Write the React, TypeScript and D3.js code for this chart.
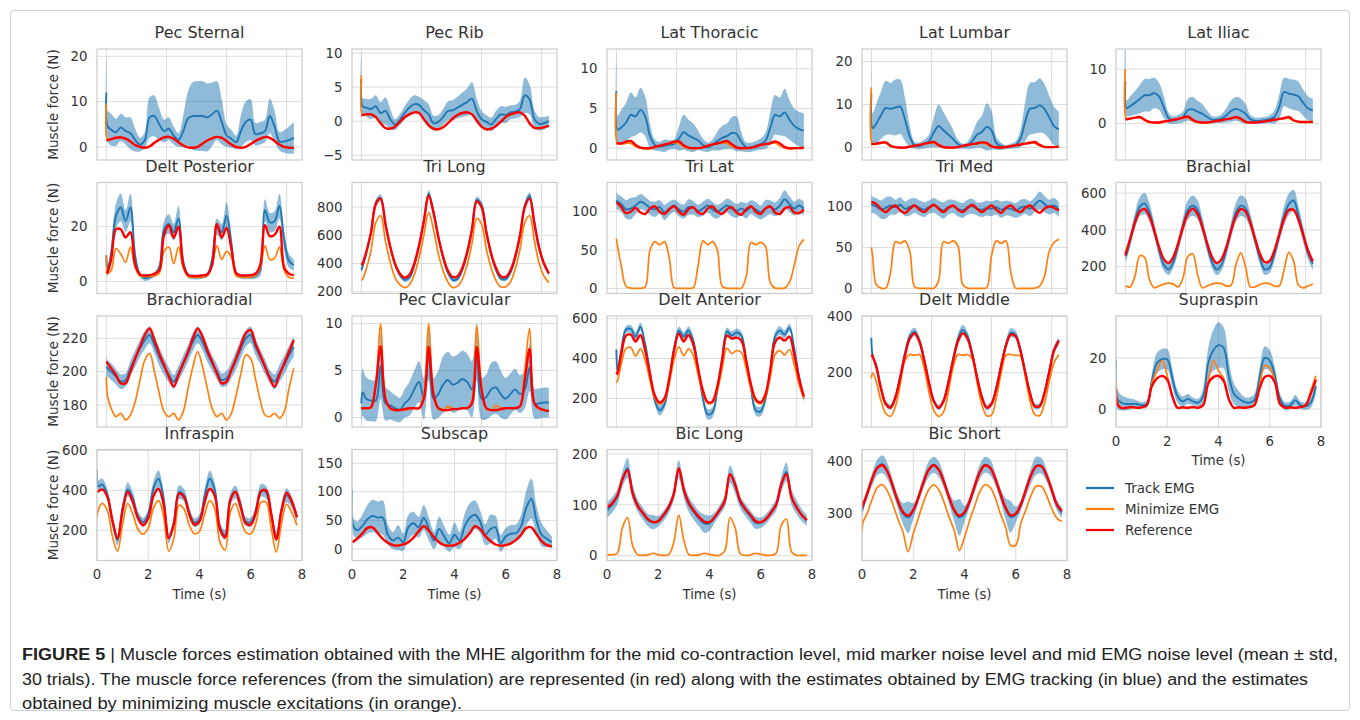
import React from "react";
import * as d3 from "d3";

// sample times (s), shared by every muscle
const TIME = [0, 0.05, 0.2, 0.4, 0.6, 0.8, 1.0, 1.2, 1.4, 1.6, 1.8, 2.0, 2.2, 2.4, 2.6, 2.8, 3.0, 3.2, 3.4, 3.6, 3.8, 4.0, 4.2, 4.4, 4.6, 4.8, 5.0, 5.2, 5.4, 5.6, 5.8, 6.0, 6.2, 6.4, 6.6, 6.8, 7.0, 7.2, 7.4, 7.6, 7.8];

const SERIES = ["Track EMG", "Minimize EMG", "Reference"];

// ---- Pec Sternal
const PEC_STERNAL_REF = [1.5, 1.5, 1.7, 2.0, 2.1, 1.8, 1.2, 0.4, 0.0, -0.2, 0.1, 0.9, 1.6, 2.1, 2.2, 1.8, 1.0, 0.3, -0.1, -0.2, 0.0, 0.7, 1.4, 1.9, 2.2, 2.0, 1.3, 0.5, 0.0, -0.2, 0.0, 0.6, 1.3, 1.8, 2.2, 2.0, 1.3, 0.5, 0.0, -0.2, -0.2];
const PEC_STERNAL_MIN = [9.5, 1.5, 1.7, 2.0, 2.1, 1.8, 1.2, 0.4, 0.0, -0.2, 0.1, 0.9, 1.6, 2.1, 2.2, 1.8, 1.0, 0.3, -0.1, -0.2, 0.0, 0.7, 1.4, 1.9, 2.2, 2.0, 1.3, 0.5, 0.0, -0.2, 0.0, 0.6, 1.3, 1.8, 2.2, 2.0, 1.3, 0.5, 0.0, -0.2, -0.2];
const PEC_STERNAL_TRACK = [12, 4.5, 3.8, 3.2, 4.3, 3.5, 3.0, 1.5, 0.5, 1.5, 6.5, 6.8, 5.0, 3.5, 4.0, 2.5, 1.5, 3.5, 6.3, 6.8, 6.8, 6.8, 6.5, 7.2, 8.0, 5.5, 2.5, 1.8, 1.0, 3.5, 5.5, 6.0, 2.8, 3.0, 3.5, 6.8, 4.5, 1.2, 1.2, 1.5, 2.0];
const PEC_STERNAL_STD = [8, 3.5, 3.5, 3, 3, 3, 3.5, 2.5, 1.5, 1.8, 4.5, 4.5, 3.5, 2.5, 2.5, 2, 1.5, 3.5, 6, 7.5, 7.7, 7.7, 7.5, 7, 6.5, 5, 2.5, 2, 1.5, 3.5, 4.5, 4.5, 2.5, 2.5, 2.5, 3.8, 3.5, 2, 2.5, 3, 3.5];

// ---- Pec Rib
const PEC_RIB_REF = [0.9, 0.9, 1.0, 1.0, 0.6, -0.3, -1.0, -1.1, -0.8, -0.1, 0.6, 1.0, 1.3, 1.2, 0.3, -0.6, -1.1, -1.2, -0.9, -0.3, 0.4, 0.9, 1.2, 1.3, 1.0, 0.1, -0.8, -1.2, -1.1, -0.7, -0.1, 0.6, 1.0, 1.2, 1.3, 0.8, -0.3, -1.0, -1.0, -0.9, -0.7];
const PEC_RIB_MIN = [6.7, 0.9, 1.0, 1.0, 0.6, -0.3, -1.0, -1.1, -0.8, -0.1, 0.6, 1.0, 1.3, 1.2, 0.3, -0.6, -1.1, -1.2, -0.9, -0.3, 0.4, 0.9, 1.2, 1.3, 1.0, 0.1, -0.8, -1.2, -1.1, -0.7, -0.1, 0.6, 1.0, 1.2, 1.3, 0.8, -0.3, -1.0, -1.0, -0.9, -0.7];
const PEC_RIB_TRACK = [6.2, 2.2, 2.0, 1.8, 2.2, 1.2, 1.5, 0.3, -0.5, 0.2, 1.2, 2.0, 2.5, 2.4, 1.6, 1.0, -0.3, -0.1, 0.6, 1.5, 1.6, 2.0, 2.4, 2.8, 3.3, 1.5, 0.3, -0.1, -0.5, 0.3, 1.0, 0.9, 1.3, 1.4, 1.8, 3.8, 3.2, 0.3, -0.4, -0.3, 0.0];
const PEC_RIB_STD = [4, 1.2, 1.3, 1.5, 1.6, 1.6, 2.0, 1.5, 0.8, 0.8, 1.0, 1.2, 1.3, 1.2, 1.5, 1.5, 1.1, 1.0, 1.2, 1.4, 1.5, 1.6, 1.8, 2.0, 2.4, 1.8, 1.2, 1.0, 1.0, 1.2, 1.2, 1.2, 1.0, 1.0, 1.2, 2.6, 2.2, 1.3, 1.0, 0.9, 0.8];

// ---- Lat Thoracic
const LAT_THORACIC_REF = [0.6, 0.6, 0.6, 0.8, 0.9, 0.4, 0.05, 0, 0, 0.15, 0.3, 0.45, 0.6, 0.8, 0.85, 0.35, 0.05, 0, 0, 0.1, 0.3, 0.45, 0.6, 0.75, 0.9, 0.5, 0.1, 0, 0, 0.05, 0.2, 0.4, 0.5, 0.6, 0.85, 0.6, 0.15, 0, 0, 0, 0.05];
const LAT_THORACIC_MIN = [7.0, 0.6, 0.5, 0.6, 0.6, 0.2, 0, -0.1, -0.1, 0.1, 0.3, 0.45, 0.55, 0.7, 0.6, 0.15, -0.05, -0.1, -0.05, 0.1, 0.3, 0.45, 0.55, 0.65, 0.6, 0.2, 0, -0.1, -0.05, 0.05, 0.2, 0.4, 0.5, 0.6, 0.65, 0.3, 0, -0.1, -0.05, 0, 0.05];
const LAT_THORACIC_TRACK = [7.2, 2.3, 2.6, 3.2, 4.2, 4.0, 4.8, 4.0, 1.5, 0.4, 0.2, 0.3, 0.4, 0.5, 1.2, 2.0, 1.6, 1.3, 1.0, 0.4, 0.1, 0.4, 0.9, 1.3, 1.5, 1.9, 1.8, 0.8, 0.1, 0.1, 0.3, 0.5, 0.9, 2.5, 4.2, 4.0, 4.5, 3.6, 2.8, 2.4, 2.2];
const LAT_THORACIC_STD = [5, 1.8, 2.2, 2.5, 2.8, 2.4, 2.8, 2.5, 1.5, 0.7, 0.6, 0.8, 0.6, 0.6, 1.5, 2.2, 2.0, 1.8, 1.2, 0.8, 0.6, 0.7, 1.2, 1.5, 1.6, 2.0, 2.2, 1.2, 0.6, 0.6, 0.6, 0.7, 1.0, 2.0, 2.5, 2.4, 3.0, 2.5, 2.2, 2.2, 2.2];

// ---- Lat Lumbar
const LAT_LUMBAR_REF = [0.8, 0.8, 0.9, 1.1, 1.2, 0.4, 0.1, 0, 0, 0.2, 0.4, 0.6, 0.9, 1.1, 1.3, 0.6, 0.1, 0, 0, 0.1, 0.4, 0.6, 0.8, 1.0, 1.2, 1.1, 0.3, 0.05, 0, 0.1, 0.3, 0.5, 0.7, 0.9, 1.1, 1.3, 0.6, 0.15, 0.1, 0.1, 0.2];
const LAT_LUMBAR_MIN = [14, 0.8, 0.8, 1.0, 1.0, 0.3, 0, -0.1, -0.1, 0.2, 0.4, 0.6, 0.8, 1.0, 1.0, 0.4, 0, -0.1, -0.1, 0.1, 0.4, 0.6, 0.8, 0.9, 1.0, 0.8, 0.2, 0, -0.1, 0.1, 0.3, 0.5, 0.7, 0.9, 1.0, 1.0, 0.4, 0.1, 0, 0.1, 0.2];
const LAT_LUMBAR_TRACK = [12.5, 4.5, 5.5, 7.5, 9.2, 9.0, 9.3, 9.5, 6.5, 2.5, 0.5, 0.4, 0.8, 1.5, 3.5, 5.0, 4.0, 3.0, 2.0, 0.8, 0.3, 0.5, 1.5, 3.0, 3.6, 4.8, 4.0, 1.0, 0.3, 0.1, 0.3, 0.6, 2.0, 6.0, 9.0, 9.2, 9.8, 9.0, 7.0, 5.0, 4.2];
const LAT_LUMBAR_STD = [8, 3.5, 4.5, 5.5, 6.3, 6.0, 6.5, 6.3, 5.0, 2.5, 0.8, 0.8, 1.0, 1.5, 3.5, 5.0, 4.2, 3.2, 2.2, 1.0, 0.6, 0.8, 1.8, 3.0, 3.8, 5.5, 4.5, 1.5, 0.8, 0.5, 0.6, 0.8, 2.0, 4.5, 6.0, 6.0, 6.3, 5.8, 5.0, 4.5, 4.2];

// ---- Lat Iliac
const LAT_ILIAC_REF = [0.8, 0.8, 0.9, 1.1, 1.2, 0.7, 0.3, 0.2, 0.2, 0.4, 0.5, 0.7, 0.85, 1.1, 1.3, 0.7, 0.3, 0.2, 0.2, 0.3, 0.5, 0.6, 0.8, 0.95, 1.2, 0.9, 0.3, 0.2, 0.2, 0.3, 0.4, 0.55, 0.7, 0.85, 1.0, 1.2, 0.6, 0.35, 0.3, 0.3, 0.3];
const LAT_ILIAC_MIN = [10, 0.8, 0.9, 1.0, 1.1, 0.6, 0.2, 0.1, 0.1, 0.3, 0.5, 0.7, 0.8, 1.0, 1.1, 0.5, 0.2, 0.1, 0.1, 0.3, 0.5, 0.6, 0.8, 0.9, 1.1, 0.7, 0.2, 0.1, 0.1, 0.3, 0.4, 0.55, 0.7, 0.8, 0.9, 1.0, 0.5, 0.25, 0.2, 0.2, 0.2];
const LAT_ILIAC_TRACK = [7.8, 2.8, 3.2, 3.8, 4.5, 5.2, 5.2, 5.6, 5.0, 3.0, 1.0, 0.6, 0.8, 1.2, 2.5, 2.6, 2.2, 1.8, 1.2, 0.7, 0.7, 0.9, 1.5, 2.3, 2.7, 2.4, 1.8, 0.8, 0.5, 0.5, 0.6, 0.8, 1.2, 3.0, 5.8, 5.5, 5.3, 5.0, 3.8, 2.8, 2.4];
const LAT_ILIAC_STD = [10, 1.5, 1.8, 2.2, 2.6, 3.0, 3.0, 2.8, 2.5, 2.0, 1.0, 0.7, 0.8, 1.0, 2.0, 2.3, 2.0, 1.8, 1.2, 0.7, 0.6, 0.8, 1.3, 2.0, 2.2, 2.2, 1.8, 0.8, 0.6, 0.6, 0.6, 0.7, 1.2, 2.2, 2.6, 2.7, 2.8, 2.7, 2.4, 2.2, 2.1];

// ---- Delt Posterior
const DELT_POST_REF = [3, 3.5, 8, 19, 19, 16, 18, 6, 2.5, 2.2, 2.3, 2.8, 4, 17, 20.5, 16, 20, 6, 2.3, 2.0, 2.0, 2.2, 2.5, 6, 21, 16, 19.5, 12, 3, 2.2, 2.2, 2.3, 2.8, 6, 20.5, 16.5, 17, 20, 5, 2.8, 2.3];
const DELT_POST_MIN = [9.5, 3, 4, 12, 10, 7, 12.5, 5, 2, 1.8, 1.8, 2, 3, 11, 12.5, 6.5, 12.5, 5, 1.8, 1.5, 1.5, 1.6, 2, 6, 13, 8, 11, 9, 2, 1.6, 1.5, 1.6, 2.2, 5, 13, 8, 8.5, 12.5, 4, 1.5, 1.2];
const DELT_POST_TRACK = [9.5, 4, 10, 24, 27, 22, 27, 9, 2.5, 1.2, 1.5, 2.5, 5, 19, 21, 18, 23, 7, 2.3, 1.6, 1.5, 1.8, 2.5, 8, 20, 18, 24, 14, 3, 1.8, 1.6, 1.6, 2.0, 4, 26, 21.5, 22, 27.5, 15, 7.5, 6];
const DELT_POST_STD = [3, 2, 3, 4.5, 5, 4, 5, 3, 1, 1, 0.8, 1, 1.5, 3, 3.5, 3, 4.5, 2.5, 1, 0.8, 0.8, 0.8, 1, 2, 3, 3, 5, 3, 1.2, 0.8, 0.8, 0.8, 1, 2, 4, 3.5, 3.5, 4.5, 3.5, 2.5, 2];

// ---- Tri Long
const TRI_LONG_REF = [390, 400, 480, 620, 820, 860, 680, 520, 400, 330, 300, 320, 400, 530, 700, 880, 760, 590, 450, 350, 305, 310, 370, 480, 640, 840, 800, 620, 470, 370, 310, 305, 350, 450, 600, 800, 860, 680, 510, 400, 330];
const TRI_LONG_MIN = [280, 290, 360, 490, 690, 740, 560, 410, 300, 250, 230, 250, 320, 440, 600, 760, 640, 470, 350, 270, 230, 240, 290, 390, 540, 720, 680, 500, 370, 280, 235, 235, 270, 360, 500, 690, 740, 560, 400, 310, 265];
const TRI_LONG_TRACK = [355, 380, 470, 620, 830, 865, 690, 520, 395, 320, 285, 300, 385, 525, 705, 895, 770, 590, 440, 335, 285, 290, 355, 470, 640, 850, 815, 625, 465, 355, 295, 290, 335, 440, 600, 810, 880, 695, 510, 395, 330];
const TRI_LONG_STD = [20, 20, 20, 22, 25, 25, 22, 20, 18, 16, 15, 16, 18, 20, 24, 25, 24, 20, 18, 16, 15, 15, 17, 20, 24, 25, 25, 22, 18, 16, 15, 15, 16, 20, 24, 25, 25, 22, 18, 16, 15];

// ---- Tri Lat
const TRI_LAT_REF = [112, 111, 106, 98, 100, 105, 99, 97, 104, 107, 100, 97, 103, 107, 100, 96, 103, 106, 99, 97, 104, 107, 100, 97, 103, 106, 99, 96, 103, 107, 100, 97, 104, 107, 99, 97, 104, 106, 99, 98, 103];
const TRI_LAT_MIN = [65, 55, 30, 3, 0.5, 0.3, 0.3, 2, 50, 61, 57, 61, 40, 1, 0.3, 0.3, 0.3, 1, 30, 62, 57, 61, 50, 3, 0.3, 0.3, 0.3, 0.5, 15, 60, 57, 60, 55, 8, 0.5, 0.3, 0.5, 8, 30, 55, 64];
const TRI_LAT_TRACK = [115, 113, 110, 103, 104, 108, 113, 110, 105, 103, 106, 99, 104, 108, 103, 100, 106, 105, 101, 104, 108, 103, 100, 104, 108, 104, 101, 104, 101, 106, 103, 99, 104, 106, 103, 108, 116, 110, 104, 108, 104];
const TRI_LAT_STD = [12, 10, 10, 12, 14, 11, 10, 9, 9, 10, 9, 10, 9, 8, 9, 9, 10, 9, 8, 9, 9, 10, 9, 8, 9, 10, 9, 9, 10, 9, 10, 9, 11, 9, 9, 10, 12, 10, 9, 9, 9];

// ---- Tri Med
const TRI_MED_REF = [105, 105, 103, 97, 93, 98, 101, 95, 92, 97, 101, 96, 93, 98, 102, 97, 93, 98, 101, 96, 93, 98, 102, 97, 93, 97, 101, 96, 92, 98, 101, 96, 93, 98, 101, 96, 92, 97, 100, 98, 95];
const TRI_MED_MIN = [50, 40, 5, 0.5, 0.5, 20, 57, 55, 58, 45, 2, 0.3, 0.3, 0.3, 0.5, 10, 57, 55, 58, 52, 5, 0.5, 0.3, 0.3, 0.3, 1, 40, 58, 55, 58, 20, 0.5, 0.3, 0.3, 0.3, 0.5, 3, 15, 45, 56, 60];
const TRI_MED_TRACK = [103, 102, 100, 96, 98, 101, 99, 102, 97, 99, 101, 98, 96, 99, 101, 98, 95, 99, 100, 97, 95, 99, 100, 97, 96, 98, 97, 99, 96, 98, 97, 95, 98, 100, 97, 102, 107, 103, 99, 101, 96];
const TRI_MED_STD = [12, 10, 10, 11, 13, 11, 9, 9, 9, 10, 9, 9, 9, 8, 9, 9, 10, 9, 8, 9, 9, 9, 9, 8, 9, 9, 9, 9, 10, 9, 9, 9, 10, 9, 9, 9, 11, 10, 9, 9, 9];

// ---- Brachial
const BRACHIAL_REF = [262, 287, 351, 438, 500, 514, 474, 396, 307, 241, 220, 254, 328, 417, 488, 515, 488, 417, 328, 254, 220, 241, 307, 396, 474, 514, 500, 438, 351, 269, 224, 231, 287, 373, 457, 508, 508, 457, 373, 287, 228];
const BRACHIAL_MIN = [95, 93, 90, 150, 260, 250, 130, 85, 95, 105, 110, 105, 90, 140, 255, 270, 160, 85, 95, 105, 110, 108, 95, 100, 210, 275, 200, 90, 90, 103, 110, 108, 95, 95, 180, 278, 230, 100, 85, 95, 105];
const BRACHIAL_TRACK = [258, 270, 344, 451, 526, 544, 495, 399, 291, 210, 185, 226, 318, 425, 508, 532, 510, 426, 318, 226, 184, 210, 291, 400, 495, 532, 517, 445, 344, 245, 185, 195, 268, 372, 475, 540, 560, 480, 375, 275, 215];
const BRACHIAL_STD = [30, 30, 35, 42, 52, 58, 50, 40, 35, 32, 30, 32, 36, 44, 52, 55, 52, 44, 36, 32, 30, 32, 36, 44, 52, 56, 54, 44, 36, 32, 30, 30, 34, 42, 52, 58, 58, 50, 42, 36, 32];

// ---- Brachioradial
const BRACHIORAD_REF = [206, 205, 202, 198, 193, 193, 200, 208, 215, 222, 226, 219, 211, 204, 197, 191, 198, 205, 212, 220, 226, 221, 213, 206, 199, 193, 194, 201, 208, 216, 223, 225, 217, 210, 203, 196, 191, 198, 205, 212, 219];
const BRACHIORAD_MIN = [197, 185, 178, 173, 175, 171, 174, 182, 195, 207, 211, 200, 187, 176, 173, 175, 171, 176, 190, 203, 212, 203, 190, 178, 173, 175, 171, 175, 186, 199, 210, 208, 196, 183, 174, 173, 175, 172, 176, 190, 202];
const BRACHIORAD_TRACK = [203, 202, 200, 197, 194, 195, 202, 208, 214, 219, 222, 216, 209, 203, 198, 194, 199, 205, 211, 218, 222, 218, 211, 205, 200, 195, 196, 201, 207, 214, 220, 222, 215, 209, 203, 197, 194, 199, 204, 210, 215];
const BRACHIORAD_STD = [6, 5, 5, 4.5, 4.5, 4, 4.5, 5, 5, 5.5, 5, 5, 5.5, 5, 4.5, 4, 4.5, 5, 5, 5.5, 5, 5, 5, 4.5, 4.5, 4, 4.5, 5, 5.5, 5.5, 5, 5, 5, 4.5, 4.5, 4, 4.5, 5, 5.5, 5.5, 6];

// ---- Pec Clavicular
const PEC_CLAV_REF = [1.0, 1.0, 1.0, 1.1, 3.5, 7.6, 2.0, 1.0, 0.8, 0.8, 0.9, 1.0, 1.0, 1.0, 2.0, 7.5, 2.5, 1.0, 0.8, 0.8, 0.9, 0.9, 1.0, 1.0, 1.5, 7.5, 3.0, 1.0, 0.8, 0.8, 0.9, 1.0, 1.0, 1.0, 1.2, 4.0, 7.3, 1.5, 1.0, 0.8, 0.7];
const PEC_CLAV_MIN = [1.0, 1.0, 1.0, 1.0, 3.5, 10.0, 2.0, 0.9, 0.8, 0.8, 0.8, 0.9, 1.0, 1.0, 2.5, 10.0, 2.5, 0.9, 0.8, 1.2, 1.0, 0.9, 1.0, 1.0, 1.8, 9.8, 3.0, 0.9, 0.8, 1.3, 1.0, 1.0, 1.0, 1.0, 1.2, 5.0, 9.5, 1.5, 0.9, 0.8, 0.7];
const PEC_CLAV_TRACK = [1.5, 2.7, 2.0, 1.8, 1.8, 5.5, 1.5, 1.3, 1.0, 0.8, 1.5, 2.0, 3.0, 3.8, 2.0, 7.0, 2.0, 2.5, 3.5, 4.0, 3.5, 3.7, 4.1, 3.8, 3.0, 7.0, 2.0, 2.2, 3.0, 3.2, 2.5, 2.0, 2.5, 3.0, 2.5, 3.0, 5.3, 1.5, 1.5, 1.6, 1.6];
const PEC_CLAV_STD = [3, 2.5, 2.3, 2.2, 2.2, 3.5, 1.8, 1.5, 1.4, 1.3, 1.5, 1.8, 2.0, 2.2, 2.2, 3.0, 2.2, 2.5, 3.0, 3.0, 3.0, 3.0, 3.0, 3.0, 3.0, 3.0, 2.2, 2.4, 2.8, 2.8, 2.5, 2.2, 2.2, 2.2, 2.0, 2.0, 2.5, 1.6, 1.6, 1.6, 1.6];

// ---- Delt Anterior
const DELT_ANT_REF = [320, 330, 420, 515, 520, 485, 518, 440, 320, 215, 180, 200, 300, 440, 525, 485, 518, 470, 350, 240, 182, 185, 260, 390, 515, 500, 505, 490, 390, 270, 195, 180, 220, 340, 480, 505, 490, 510, 420, 300, 210];
const DELT_ANT_MIN = [280, 290, 370, 450, 455, 412, 448, 390, 290, 200, 172, 190, 275, 395, 458, 415, 448, 415, 320, 225, 175, 178, 240, 350, 452, 425, 440, 430, 350, 250, 185, 173, 205, 305, 420, 440, 418, 445, 370, 270, 200];
const DELT_ANT_TRACK = [445, 335, 440, 545, 548, 510, 560, 470, 330, 190, 140, 170, 290, 450, 540, 510, 540, 490, 350, 200, 120, 130, 240, 400, 535, 515, 530, 515, 395, 250, 140, 135, 195, 340, 510, 540, 520, 555, 450, 310, 200];
const DELT_ANT_STD = [40, 22, 20, 18, 20, 22, 20, 18, 20, 22, 25, 24, 20, 18, 20, 22, 20, 18, 20, 23, 26, 25, 22, 19, 20, 21, 20, 19, 20, 22, 25, 24, 21, 19, 20, 22, 21, 20, 19, 18, 18];

// ---- Delt Middle
const DELT_MID_REF = [265, 258, 223, 144, 89, 76, 112, 182, 262, 321, 340, 310, 243, 163, 99, 75, 99, 163, 243, 310, 340, 321, 262, 182, 112, 76, 89, 144, 223, 296, 336, 330, 279, 202, 127, 81, 81, 127, 202, 279, 315];
const DELT_MID_MIN = [180, 200, 170, 100, 55, 45, 80, 160, 245, 265, 262, 265, 215, 130, 65, 45, 60, 130, 220, 265, 262, 265, 250, 165, 85, 47, 50, 110, 200, 262, 265, 262, 260, 190, 100, 52, 48, 90, 170, 235, 265];
const DELT_MID_TRACK = [325, 262, 225, 147, 90, 78, 115, 188, 270, 330, 345, 315, 248, 166, 100, 76, 100, 168, 250, 320, 352, 330, 268, 185, 113, 76, 90, 147, 228, 300, 342, 335, 283, 204, 128, 80, 82, 128, 205, 282, 310];
const DELT_MID_STD = [20, 12, 12, 12, 10, 10, 12, 13, 14, 15, 15, 14, 13, 12, 10, 10, 11, 13, 14, 16, 18, 16, 14, 12, 11, 10, 10, 12, 13, 15, 16, 15, 14, 12, 10, 10, 10, 12, 13, 14, 14];

// ---- Supraspin
const SUPRASPIN_REF = [8, 2, 0.5, 0.5, 0.8, 0.5, 0.7, 1.5, 9, 12, 13, 11.5, 5, 0.5, 0.7, 0.5, 0.8, 0.5, 1.5, 10, 12.5, 13, 11, 4, 0.5, 0.7, 0.5, 0.8, 1.5, 8, 12.5, 13, 10.5, 2, 0.5, 0.7, 0.5, 0.8, 1.5, 6, 11.5];
const SUPRASPIN_MIN = [11, 3, 0.5, 0.5, 0.8, 0.5, 0.7, 1.5, 10, 15, 19, 13, 5, 0.5, 0.7, 0.5, 0.8, 0.5, 1.5, 11, 19, 15, 12, 4, 0.5, 0.7, 0.5, 0.8, 1.5, 9, 17, 16, 11, 2, 0.5, 0.7, 0.5, 0.8, 1.5, 7, 13];
const SUPRASPIN_TRACK = [19, 4, 2.5, 2, 2, 2, 1.5, 2, 11, 18, 19.5, 19.5, 12, 5, 3, 4, 3, 2.5, 5, 18, 23, 25, 24, 13, 6, 4, 2.8, 2.5, 3.5, 12, 20, 19, 13, 4, 1.2, 1.5, 3.5, 1.5, 1.2, 2.5, 9];
const SUPRASPIN_STD = [10, 4, 3, 2.5, 2, 1.5, 1.2, 1.5, 3, 4, 4, 4, 3.5, 2.5, 2, 2, 1.5, 1.5, 3, 6, 8, 9, 8, 6, 4, 3, 2, 2, 2.5, 4, 4.5, 4, 3.5, 2, 1.5, 1.5, 2, 1.5, 1.5, 2, 3];

// ---- Infraspin
const INFRASPIN_REF = [390, 395, 405, 370, 250, 160, 300, 393, 340, 260, 225, 260, 370, 408, 330, 160, 230, 385, 365, 280, 228, 245, 340, 408, 370, 205, 165, 350, 393, 320, 235, 228, 290, 395, 400, 280, 155, 300, 388, 345, 265];
const INFRASPIN_MIN = [260, 300, 335, 300, 170, 95, 230, 333, 280, 205, 180, 210, 310, 348, 270, 95, 160, 325, 305, 225, 182, 195, 280, 348, 305, 140, 100, 290, 333, 260, 190, 182, 235, 340, 340, 210, 90, 235, 330, 290, 225];
const INFRASPIN_TRACK = [505, 420, 430, 380, 245, 150, 310, 405, 360, 270, 240, 280, 410, 458, 360, 160, 240, 390, 375, 290, 238, 255, 370, 458, 400, 215, 175, 355, 392, 330, 245, 240, 300, 400, 390, 280, 165, 300, 375, 340, 265];
const INFRASPIN_STD = [80, 30, 30, 28, 25, 25, 30, 35, 30, 25, 22, 25, 35, 42, 35, 25, 25, 35, 30, 25, 22, 25, 35, 40, 35, 25, 25, 30, 32, 28, 22, 22, 28, 32, 32, 28, 25, 30, 35, 30, 25];

// ---- Subscap
const SUBSCAP_REF = [12, 13, 18, 27, 37, 38, 28, 18, 11, 7, 6, 8, 12, 20, 31, 40, 32, 21, 12, 7, 6, 7, 11, 18, 28, 40, 35, 23, 14, 8, 6, 7, 10, 16, 25, 37, 38, 26, 14, 7, 5];
const SUBSCAP_MIN = [12, 13, 18, 26, 36, 38, 28, 18, 11, 7, 6, 8, 12, 20, 31, 39, 32, 21, 12, 7, 6, 7, 11, 18, 28, 39, 35, 23, 14, 8, 6, 7, 10, 16, 25, 36, 38, 26, 14, 7, 5];
const SUBSCAP_TRACK = [103, 40, 33, 40, 52, 58, 55, 55, 25, 15, 20, 12, 38, 45, 38, 55, 35, 15, 35, 22, 10, 25, 15, 40, 55, 60, 48, 25, 35, 38, 10, 22, 27, 28, 40, 72, 88, 50, 25, 18, 12];
const SUBSCAP_STD = [50, 15, 15, 20, 25, 28, 28, 30, 18, 15, 22, 15, 22, 20, 18, 22, 20, 15, 22, 18, 15, 22, 15, 22, 25, 25, 20, 18, 25, 20, 15, 15, 15, 15, 20, 30, 35, 25, 20, 15, 10];

// ---- Bic Long
const BIC_LONG_REF = [95, 97, 103, 118, 150, 168, 122, 98, 84, 72, 66, 68, 80, 95, 120, 172, 130, 103, 88, 76, 67, 66, 76, 90, 108, 160, 140, 108, 92, 80, 68, 66, 72, 85, 100, 140, 160, 115, 95, 80, 70];
const BIC_LONG_MIN = [2, 2, 2, 5, 55, 75, 20, 2, 1, 2, 5, 2, 1, 2, 25, 80, 30, 2, 1, 2, 5, 3, 1, 1, 10, 75, 55, 4, 1, 2, 5, 3, 1, 1, 5, 60, 72, 8, 1, 1, 1];
const BIC_LONG_TRACK = [88, 92, 100, 115, 150, 172, 125, 98, 83, 70, 66, 68, 78, 93, 120, 170, 128, 100, 85, 72, 63, 64, 75, 90, 108, 160, 138, 105, 90, 77, 65, 65, 72, 85, 100, 140, 165, 115, 95, 80, 70];
const BIC_LONG_STD = [15, 15, 15, 15, 15, 20, 15, 12, 12, 12, 14, 10, 10, 10, 12, 18, 15, 15, 15, 15, 18, 15, 10, 10, 12, 17, 15, 12, 12, 12, 12, 10, 10, 10, 12, 15, 18, 15, 14, 12, 10];

// ---- Bic Short
const BIC_SHORT_REF = [312, 318, 338, 367, 387, 392, 379, 353, 324, 303, 296, 307, 331, 360, 383, 392, 383, 360, 331, 307, 296, 303, 324, 353, 379, 392, 387, 367, 338, 312, 297, 300, 318, 346, 373, 390, 390, 373, 346, 318, 305];
const BIC_SHORT_MIN = [265, 285, 300, 328, 350, 355, 342, 318, 290, 265, 228, 262, 292, 322, 345, 355, 345, 322, 293, 268, 230, 255, 287, 315, 342, 355, 350, 330, 300, 275, 240, 240, 282, 308, 335, 352, 352, 335, 310, 292, 285];
const BIC_SHORT_TRACK = [305, 315, 337, 366, 388, 394, 380, 352, 322, 300, 293, 305, 330, 360, 384, 393, 384, 360, 330, 305, 293, 300, 322, 352, 380, 393, 388, 366, 337, 310, 294, 298, 316, 345, 373, 391, 391, 373, 345, 317, 302];
const BIC_SHORT_STD = [15, 10, 10, 12, 15, 17, 15, 12, 12, 20, 30, 15, 10, 12, 15, 15, 15, 12, 12, 20, 35, 15, 10, 12, 14, 15, 15, 12, 12, 20, 30, 15, 10, 12, 15, 17, 15, 12, 10, 10, 10];

const PANELS = [
  { title: "Pec Sternal", ref: PEC_STERNAL_REF, min: PEC_STERNAL_MIN, track: PEC_STERNAL_TRACK, std: PEC_STERNAL_STD, yDomain: [-2.9, 21.6], yTicks: [0, 10, 20] },
  { title: "Pec Rib", ref: PEC_RIB_REF, min: PEC_RIB_MIN, track: PEC_RIB_TRACK, std: PEC_RIB_STD, yDomain: [-5.7, 10.6], yTicks: [-5, 0, 5, 10] },
  { title: "Lat Thoracic", ref: LAT_THORACIC_REF, min: LAT_THORACIC_MIN, track: LAT_THORACIC_TRACK, std: LAT_THORACIC_STD, yDomain: [-1.5, 12.5], yTicks: [0, 5, 10] },
  { title: "Lat Lumbar", ref: LAT_LUMBAR_REF, min: LAT_LUMBAR_MIN, track: LAT_LUMBAR_TRACK, std: LAT_LUMBAR_STD, yDomain: [-2.9, 22.9], yTicks: [0, 10, 20] },
  { title: "Lat Iliac", ref: LAT_ILIAC_REF, min: LAT_ILIAC_MIN, track: LAT_ILIAC_TRACK, std: LAT_ILIAC_STD, yDomain: [-6.7, 13.7], yTicks: [0, 10] },
  { title: "Delt Posterior", ref: DELT_POST_REF, min: DELT_POST_MIN, track: DELT_POST_TRACK, std: DELT_POST_STD, yDomain: [-4.4, 36.1], yTicks: [0, 20] },
  { title: "Tri Long", ref: TRI_LONG_REF, min: TRI_LONG_MIN, track: TRI_LONG_TRACK, std: TRI_LONG_STD, yDomain: [188, 974], yTicks: [200, 400, 600, 800] },
  { title: "Tri Lat", ref: TRI_LAT_REF, min: TRI_LAT_MIN, track: TRI_LAT_TRACK, std: TRI_LAT_STD, yDomain: [-6.5, 138], yTicks: [0, 50, 100] },
  { title: "Tri Med", ref: TRI_MED_REF, min: TRI_MED_MIN, track: TRI_MED_TRACK, std: TRI_MED_STD, yDomain: [-6, 129], yTicks: [0, 50, 100] },
  { title: "Brachial", ref: BRACHIAL_REF, min: BRACHIAL_MIN, track: BRACHIAL_TRACK, std: BRACHIAL_STD, yDomain: [54, 658], yTicks: [200, 400, 600] },
  { title: "Brachioradial", ref: BRACHIORAD_REF, min: BRACHIORAD_MIN, track: BRACHIORAD_TRACK, std: BRACHIORAD_STD, yDomain: [166.8, 233.4], yTicks: [180, 200, 220] },
  { title: "Pec Clavicular", ref: PEC_CLAV_REF, min: PEC_CLAV_MIN, track: PEC_CLAV_TRACK, std: PEC_CLAV_STD, yDomain: [-1.0, 10.8], yTicks: [0, 5, 10] },
  { title: "Delt Anterior", ref: DELT_ANT_REF, min: DELT_ANT_MIN, track: DELT_ANT_TRACK, std: DELT_ANT_STD, yDomain: [57, 613], yTicks: [200, 400, 600] },
  { title: "Delt Middle", ref: DELT_MID_REF, min: DELT_MID_MIN, track: DELT_MID_TRACK, std: DELT_MID_STD, yDomain: [7, 402], yTicks: [200, 400] },
  { title: "Supraspin", ref: SUPRASPIN_REF, min: SUPRASPIN_MIN, track: SUPRASPIN_TRACK, std: SUPRASPIN_STD, yDomain: [-7, 36.4], yTicks: [0, 20] },
  { title: "Infraspin", ref: INFRASPIN_REF, min: INFRASPIN_MIN, track: INFRASPIN_TRACK, std: INFRASPIN_STD, yDomain: [48, 605], yTicks: [200, 400, 600] },
  { title: "Subscap", ref: SUBSCAP_REF, min: SUBSCAP_MIN, track: SUBSCAP_TRACK, std: SUBSCAP_STD, yDomain: [-20, 174], yTicks: [0, 50, 100, 150] },
  { title: "Bic Long", ref: BIC_LONG_REF, min: BIC_LONG_MIN, track: BIC_LONG_TRACK, std: BIC_LONG_STD, yDomain: [-9.2, 208.6], yTicks: [0, 100, 200] },
  { title: "Bic Short", ref: BIC_SHORT_REF, min: BIC_SHORT_MIN, track: BIC_SHORT_TRACK, std: BIC_SHORT_STD, yDomain: [211, 422], yTicks: [300, 400] },
];

const CAPTION = [
  "Muscle forces estimation obtained with the MHE algorithm for the mid co-contraction level, mid marker noise level and mid EMG noise level (mean \u00b1 std,",
  "30 trials). The muscle force references (from the simulation) are represented (in red) along with the estimates obtained by EMG tracking (in blue) and the estimates",
  "obtained by minimizing muscle excitations (in orange).",
];

const BLUE = "#1f77b4";
const ORANGE = "#ff7f0e";
const RED = "#ff0000";
const TXT = "#333333";
const FONT = "DejaVu Sans, sans-serif";

// subplot grid
const COL_X = [97, 352, 607, 862, 1116];
const ROW_Y = [49, 182.5, 316, 449.5];
const PW = 205;
const PH = 111;

function Panel({ p, idx }) {
  const row = Math.floor(idx / 5);
  const col = idx % 5;
  const bottom = idx >= 14;
  const x0 = COL_X[col];
  const y0 = ROW_Y[row];
  const x = d3.scaleLinear().domain(bottom ? [0, 8] : [-0.39, 8.14]).range([x0, x0 + PW]);
  const y = d3.scaleLinear().domain(p.yDomain).range([y0 + PH, y0]);
  const xTicks = bottom ? [0, 2, 4, 6, 8] : [0, 2.5, 5, 7.5];
  const curve = d3.curveCatmullRom.alpha(0.5);

  const line = (arr) =>
    d3.line().x((_, i) => x(TIME[i])).y((v) => y(v)).curve(curve)(arr);
  const band = d3
    .area()
    .x((_, i) => x(TIME[i]))
    .y0((v, i) => y(v - p.std[i]))
    .y1((v, i) => y(v + p.std[i]))
    .curve(curve)(p.track);

  const clipId = `clip-${idx}`;
  return (
    <g>
      <clipPath id={clipId}>
        <rect x={x0} y={y0} width={PW} height={PH} />
      </clipPath>
      {xTicks.map((t) => (
        <line key={"gx" + t} x1={x(t)} x2={x(t)} y1={y0} y2={y0 + PH} stroke="#dcdcdc" strokeWidth={1} />
      ))}
      {p.yTicks.map((t) => (
        <line key={"gy" + t} x1={x0} x2={x0 + PW} y1={y(t)} y2={y(t)} stroke="#dcdcdc" strokeWidth={1} />
      ))}
      <g clipPath={`url(#${clipId})`}>
        <path d={band} fill={BLUE} fillOpacity={0.5} stroke="none" />
        <path d={line(p.track)} fill="none" stroke={BLUE} strokeWidth={1.9} strokeLinejoin="round" />
        <path d={line(p.min)} fill="none" stroke={ORANGE} strokeWidth={1.7} strokeLinejoin="round" />
        <path d={line(p.ref)} fill="none" stroke={RED} strokeWidth={2.4} strokeLinejoin="round" />
      </g>
      <rect x={x0} y={y0} width={PW} height={PH} fill="none" stroke="#cccccc" strokeWidth={1.2} />
      {p.yTicks.map((t) => (
        <text key={"ty" + t} x={x0 - 9.5} y={y(t)} dy="0.35em" textAnchor="end" fontSize={13.3} fill={TXT} fontFamily={FONT}>
          {t < 0 ? "\u2212" + Math.abs(t) : t}
        </text>
      ))}
      {bottom &&
        xTicks.map((t) => (
          <text key={"tx" + t} x={x(t)} y={y0 + PH + 14} dy="0.35em" textAnchor="middle" fontSize={13.3} fill={TXT} fontFamily={FONT}>
            {t}
          </text>
        ))}
      {bottom && (
        <text x={x0 + PW / 2} y={y0 + PH + 33.5} dy="0.35em" textAnchor="middle" fontSize={13.3} fill={TXT} fontFamily={FONT}>
          Time (s)
        </text>
      )}
      <text x={x0 + PW / 2} y={y0 - 11} textAnchor="middle" fontSize={16} fill={TXT} fontFamily={FONT}>
        {p.title}
      </text>
      {col === 0 && (
        <text
          transform={`translate(53,${y0 + PH / 2}) rotate(-90)`}
          dy="0.35em"
          textAnchor="middle"
          fontSize={13.6}
          fill={TXT}
          fontFamily={FONT}
        >
          Muscle force (N)
        </text>
      )}
    </g>
  );
}

export default function App() {
  const legendColors = [BLUE, ORANGE, RED];
  const legendY = d3.scalePoint().domain(SERIES).range([488, 530]);
  return (
    <svg
      width={1360}
      height={720}
      style={{ position: "absolute", left: 0, top: 0, background: "#fff" }}
    >
      <rect x={0} y={0} width={1360} height={720} fill="#fff" />
      <rect x={10.5} y={10.5} width={1339} height={700} rx={3} fill="none" stroke="#cfcfcf" strokeWidth={1} />
      {PANELS.map((p, i) => (
        <Panel key={p.title} p={p} idx={i} />
      ))}
      {SERIES.map((s, i) => (
        <g key={s}>
          <line x1={1086} x2={1114} y1={legendY(s)} y2={legendY(s)} stroke={legendColors[i]} strokeWidth={2.2} />
          <text x={1125} y={legendY(s)} dy="0.35em" fontSize={13.4} fill={TXT} fontFamily={FONT}>
            {s}
          </text>
        </g>
      ))}
      <text x={22} y={660} fontSize={16} fill="#222" fontFamily="Liberation Sans, Arial, sans-serif" textLength={1316} lengthAdjust="spacingAndGlyphs">
        <tspan fontWeight="bold">FIGURE 5</tspan>
        <tspan> | {CAPTION[0]}</tspan>
      </text>
      <text x={22} y={685} fontSize={16} fill="#222" fontFamily="Liberation Sans, Arial, sans-serif" textLength={1286} lengthAdjust="spacingAndGlyphs">
        {CAPTION[1]}
      </text>
      <text x={22} y={709} fontSize={16} fill="#222" fontFamily="Liberation Sans, Arial, sans-serif" textLength={440} lengthAdjust="spacingAndGlyphs">
        {CAPTION[2]}
      </text>
    </svg>
  );
}
